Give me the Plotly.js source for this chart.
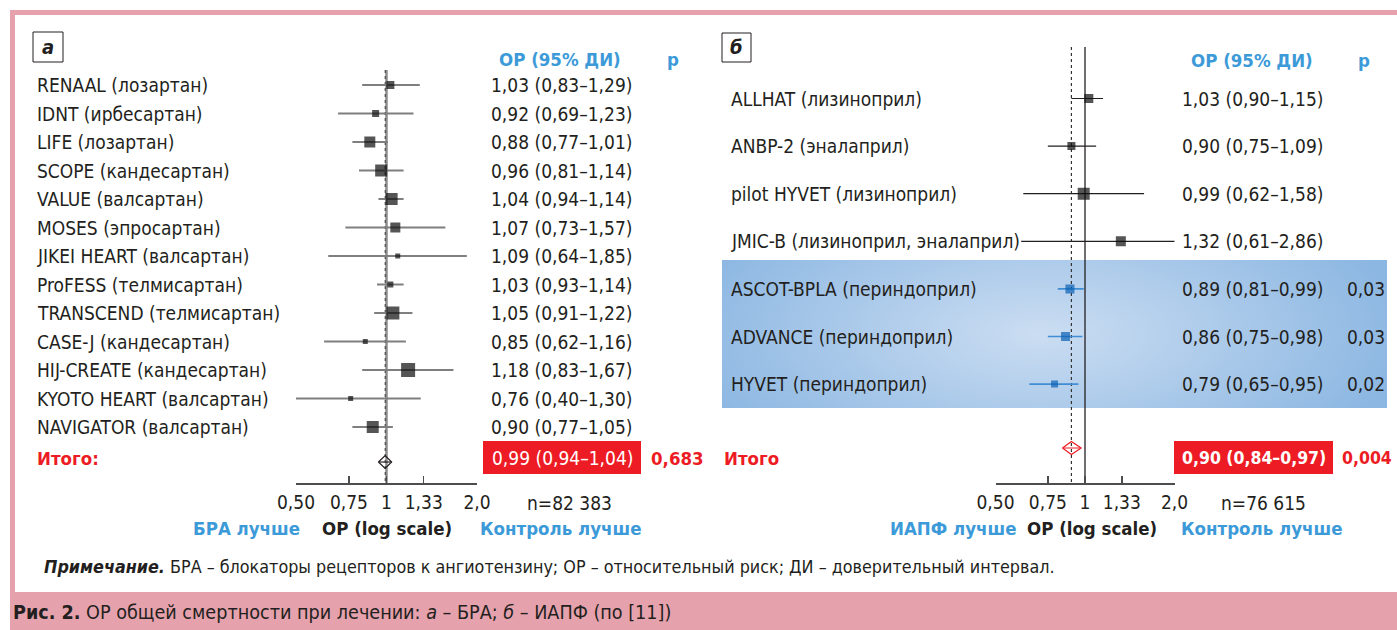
<!DOCTYPE html>
<html><head><meta charset="utf-8">
<script src="https://cdn.plot.ly/plotly-3.0.1.min.js"></script>
<style>html,body{margin:0;padding:0;background:#fff}#chart{width:1397px;height:630px}</style>
</head><body><div id="chart"></div>
<script>
// ---------- DATA ----------
// Panel а – БРА
const studiesA = ["RENAAL (лозартан)", "IDNT (ирбесартан)", "LIFE (лозартан)", "SCOPE (кандесартан)",
  "VALUE (валсартан)", "MOSES (эпросартан)", "JIKEI HEART (валсартан)", "ProFESS (телмисартан)",
  "TRANSCEND (телмисартан)", "CASE-J (кандесартан)", "HIJ-CREATE (кандесартан)",
  "KYOTO HEART (валсартан)", "NAVIGATOR (валсартан)"];
const orA = [1.03, 0.92, 0.88, 0.96, 1.04, 1.07, 1.09, 1.03, 1.05, 0.85, 1.18, 0.76, 0.90];
const loA = [0.83, 0.69, 0.77, 0.81, 0.94, 0.73, 0.64, 0.93, 0.91, 0.62, 0.83, 0.40, 0.77];
const hiA = [1.29, 1.23, 1.01, 1.14, 1.14, 1.57, 1.85, 1.14, 1.22, 1.16, 1.67, 1.30, 1.05];
const totalOrA = 0.99, totalLoA = 0.94, totalHiA = 1.04;
const totalPA = "0,683";
const nA = "n=82 383";

// Panel б – ИАПФ
const studiesB = ["ALLHAT (лизиноприл)", "ANBP-2 (эналаприл)", "pilot HYVET (лизиноприл)",
  "JMIC-B (лизиноприл, эналаприл)", "ASCOT-BPLA (периндоприл)", "ADVANCE (периндоприл)",
  "HYVET (периндоприл)"];
const orB = [1.03, 0.90, 0.99, 1.32, 0.89, 0.86, 0.79];
const loB = [0.90, 0.75, 0.62, 0.61, 0.81, 0.75, 0.65];
const hiB = [1.15, 1.09, 1.58, 2.86, 0.99, 0.98, 0.95];
const pB = ["", "", "", "", "0,03", "0,03", "0,02"];
const totalOrB = 0.90, totalLoB = 0.84, totalHiB = 0.97;
const totalPB = "0,004";
const nB = "n=76 615";

// Axis ticks
const tickVals = [0.5, 0.75, 1, 1.33, 2];
const tickText = ["0,50", "0,75", "1", "1,33", "2,0"];

// ---------- STYLE ----------
const boxSizeA = [8, 7, 11, 12, 12, 10, 5, 6, 13, 5, 14, 5, 12];
const boxSizeB = [9, 8, 12, 10, 9, 9, 7];

const W = 1397, H = 630;
const F = "'DejaVu Sans Condensed', 'DejaVu Sans', sans-serif";
const INK = '#231f20', BLUE = '#3d9ad8', RED = '#ed1c24', PINK = '#e6a2ac';
const FS = 19;
const px = v => v / W;
const py = v => 1 - v / H;

// row geometry (pixels)
const A_ROW0 = 85, A_STEP = 28.5, B_ROW0 = 98.5, B_STEP = 47.6, AX_Y = 483;
const yA = p => (p - A_ROW0) / A_STEP;
const yB = p => (p - B_ROW0) / B_STEP;

const fmt = v => v.toFixed(2).replace('.', ',');
const ciText = (o, l, h) => `${fmt(o)} (${fmt(l)}–${fmt(h)})`;

function segs(lo, hi, rows, filter) {
  const xs = [], ys = [];
  lo.forEach((l, i) => { if (filter(i)) { xs.push(l, hi[i], null); ys.push(rows[i], rows[i], null); } });
  return {x: xs, y: ys};
}
const rowsA = studiesA.map((_, i) => i);
const rowsB = studiesB.map((_, i) => i);
const isBlue = i => pB[i] !== "";

function diamond(o, l, h, yc, hh) {
  return {x: [l, o, h, o, l, null, l, h], y: [yc, yc - hh, yc, yc + hh, yc, null, yc, yc]};
}

const traces = [];
// ---- Panel A ----
traces.push({x: [1, 1], y: [yA(70), yA(AX_Y)], xaxis: 'x', yaxis: 'y', mode: 'lines',
  line: {color: '#8c8c8c', width: 2.5}, hoverinfo: 'skip'});
traces.push({x: [totalOrA, totalOrA], y: [yA(70), yA(AX_Y)], xaxis: 'x', yaxis: 'y', mode: 'lines',
  line: {color: '#333', width: 1, dash: '3px,3px'}, hoverinfo: 'skip'});
const sA = segs(loA, hiA, rowsA, () => true);
traces.push({x: sA.x, y: sA.y, xaxis: 'x', yaxis: 'y', mode: 'lines', connectgaps: false,
  line: {color: '#7f7f7f', width: 2}, hoverinfo: 'skip'});
traces.push({x: orA, y: rowsA, xaxis: 'x', yaxis: 'y', mode: 'markers',
  marker: {symbol: 'square', size: boxSizeA, color: '#0d0d0d', line: {width: 0}}, hoverinfo: 'skip'});
const dA = diamond(totalOrA, totalLoA, totalHiA, yA(462), 6.5 / A_STEP);
traces.push({x: dA.x, y: dA.y, xaxis: 'x', yaxis: 'y', mode: 'lines',
  line: {color: INK, width: 1.2}, hoverinfo: 'skip'});

// ---- Panel B ----
traces.push({x: [1, 1], y: [yB(47), yB(AX_Y)], xaxis: 'x2', yaxis: 'y2', mode: 'lines',
  line: {color: INK, width: 1.3}, hoverinfo: 'skip'});
traces.push({x: [totalOrB, totalOrB], y: [yB(47), yB(AX_Y)], xaxis: 'x2', yaxis: 'y2', mode: 'lines',
  line: {color: '#333', width: 1.2, dash: '3px,3px'}, hoverinfo: 'skip'});
const sB1 = segs(loB, hiB, rowsB, i => !isBlue(i));
traces.push({x: sB1.x, y: sB1.y, xaxis: 'x2', yaxis: 'y2', mode: 'lines',
  line: {color: INK, width: 1.2}, hoverinfo: 'skip'});
const sB2 = segs(loB, hiB, rowsB, isBlue);
traces.push({x: sB2.x, y: sB2.y, xaxis: 'x2', yaxis: 'y2', mode: 'lines',
  line: {color: '#3f8dd4', width: 1.6}, hoverinfo: 'skip'});
traces.push({x: orB, y: rowsB, xaxis: 'x2', yaxis: 'y2', mode: 'markers',
  marker: {symbol: 'square', size: boxSizeB, color: rowsB.map(i => isBlue(i) ? '#0a5fb4' : '#0d0d0d'), line: {width: 0}},
  hoverinfo: 'skip'});
const dB = diamond(totalOrB, totalLoB, totalHiB, yB(448), 6.5 / B_STEP);
traces.push({x: dB.x, y: dB.y, xaxis: 'x2', yaxis: 'y2', mode: 'lines',
  line: {color: RED, width: 1.2}, hoverinfo: 'skip'});

// ---------- ANNOTATIONS ----------
const ann = [];
const txt = (text, x, y, opts = {}) => Object.assign({text, x, y, xref: 'paper', yref: 'paper',
  showarrow: false, xanchor: 'left', yanchor: 'middle',
  font: {family: F, size: FS, color: INK}}, opts);

// Panel A
ann.push(txt('<b><i>а</i></b>', px(48), py(47), {xanchor: 'center', font: {family: F, size: 20, color: INK}}));
ann.push(txt('<b>ОР (95% ДИ)</b>', px(560), py(59), {xanchor: 'center', font: {family: F, size: 18.5, color: BLUE}}));
ann.push(txt('<b>р</b>', px(673), py(59), {xanchor: 'center', font: {family: F, size: 18.5, color: BLUE}}));
studiesA.forEach((s, i) => {
  ann.push(txt(s, px(35), i, {yref: 'y'}));
  ann.push(txt(ciText(orA[i], loA[i], hiA[i]), px(489), i, {yref: 'y'}));
});
ann.push(txt('<b>Итого:</b>', px(35), py(458), {font: {family: F, size: 18.5, color: RED}}));
ann.push(txt(ciText(totalOrA, totalLoA, totalHiA), px(562), py(458), {xanchor: 'center', font: {family: F, size: FS, color: '#fff'}}));
ann.push(txt('<b>' + totalPA + '</b>', px(649), py(458), {font: {family: F, size: 18.5, color: RED}}));
ann.push(txt(nA, px(569), py(503), {xanchor: 'center'}));
ann.push(txt('<b>БРА лучше</b>', px(302), py(528), {xanchor: 'right', font: {family: F, size: 18.5, color: BLUE}}));
ann.push(txt('<b>ОР (log scale)</b>', px(387), py(528), {xanchor: 'center', font: {family: F, size: 18.5, color: INK}}));
ann.push(txt('<b>Контроль лучше</b>', px(478), py(528), {font: {family: F, size: 18.5, color: BLUE}}));

// Panel B
ann.push(txt('<b><i>б</i></b>', px(736.5), py(47.5), {xanchor: 'center', font: {family: F, size: 20, color: INK}}));
ann.push(txt('<b>ОР (95% ДИ)</b>', px(1252), py(60), {xanchor: 'center', font: {family: F, size: 18.5, color: BLUE}}));
ann.push(txt('<b>р</b>', px(1364), py(60), {xanchor: 'center', font: {family: F, size: 18.5, color: BLUE}}));
studiesB.forEach((s, i) => {
  ann.push(txt(s, px(729), i, {yref: 'y2'}));
  ann.push(txt(ciText(orB[i], loB[i], hiB[i]), px(1180), i, {yref: 'y2'}));
  if (pB[i]) ann.push(txt(pB[i], px(1345), i, {yref: 'y2'}));
});
ann.push(txt('<b>Итого</b>', px(722), py(458), {font: {family: F, size: 18.5, color: RED}}));
ann.push(txt('<b>' + ciText(totalOrB, totalLoB, totalHiB) + '</b>', px(1253.5), py(458), {xanchor: 'center', font: {family: F, size: 17.5, color: '#fff'}}));
ann.push(txt('<b>' + totalPB + '</b>', px(1340), py(458), {font: {family: F, size: 17.5, color: RED}}));
ann.push(txt(nB, px(1263), py(503), {xanchor: 'center'}));
ann.push(txt('<b>ИАПФ лучше</b>', px(1018), py(528), {xanchor: 'right', font: {family: F, size: 18.5, color: BLUE}}));
ann.push(txt('<b>ОР (log scale)</b>', px(1092), py(528), {xanchor: 'center', font: {family: F, size: 18.5, color: INK}}));
ann.push(txt('<b>Контроль лучше</b>', px(1179), py(528), {font: {family: F, size: 18.5, color: BLUE}}));

// Note & caption
ann.push(txt('<b><i>Примечание.</i></b> БРА – блокаторы рецепторов к ангиотензину; ОР – относительный риск; ДИ – доверительный интервал.',
  px(42), py(566), {font: {family: F, size: 17.8, color: INK}}));
ann.push(txt('<b>Рис. 2.</b> ОР общей смертности при лечении: <i>а</i> – БРА; <i>б</i> – ИАПФ (по [11])',
  px(11), py(612), {font: {family: F, size: 19.6, color: INK}}));

// ---------- SHAPES ----------
const rect = (x0, y0, x1, y1, fill, line) => ({type: 'rect', xref: 'paper', yref: 'paper',
  x0: px(x0), x1: px(x1), y0: py(y1), y1: py(y0), fillcolor: fill || 'rgba(0,0,0,0)',
  line: line || {width: 0}, layer: 'below'});
const shapes = [
  rect(10, 10, W, 15, PINK),
  rect(10, 10, 15, 592, PINK),
  rect(10, 592, W, H, PINK),
  rect(33, 32, 63, 62, null, {color: INK, width: 1}),
  rect(722, 33, 751, 62, null, {color: INK, width: 1}),
  rect(483, 441, 641, 474, RED),
  rect(1174, 441, 1333, 474, RED)
];

// gradient panel (decoration)
const cv = document.createElement('canvas');
cv.width = 665; cv.height = 148;
const ctx = cv.getContext('2d');
ctx.fillStyle = '#8cb7e2'; ctx.fillRect(0, 0, 665, 148);
ctx.save();
ctx.translate(318, 74); ctx.scale(1, 0.42);
const g = ctx.createRadialGradient(0, 0, 0, 0, 0, 370);
g.addColorStop(0, '#cbddf2'); g.addColorStop(1, '#8cb7e2');
ctx.fillStyle = g; ctx.fillRect(-400, -400, 800, 800);
ctx.restore();

const axisCommon = {type: 'log', range: [Math.log10(0.5), Math.log10(2)], anchor: 'free',
  position: 1 - AX_Y / H, showline: true, linecolor: '#4d4d4d', linewidth: 1.5,
  ticks: 'inside', ticklen: 7, tickwidth: 1.5, tickcolor: '#4d4d4d', ticklabelstandoff: 2,
  tickvals: tickVals, ticktext: tickText, showgrid: false, zeroline: false, fixedrange: true,
  automargin: false, tickfont: {family: F, size: FS, color: INK}};

const layout = {
  width: W, height: H, margin: {l: 0, r: 0, t: 0, b: 0, pad: 0, autoexpand: false},
  paper_bgcolor: '#fff', plot_bgcolor: 'rgba(0,0,0,0)', showlegend: false, hovermode: false,
  xaxis: Object.assign({}, axisCommon, {domain: [px(296), px(477)]}),
  xaxis2: Object.assign({}, axisCommon, {domain: [px(995.5), px(1174.5)]}),
  yaxis: {domain: [0, 1], range: [yA(H), yA(0)], visible: false, fixedrange: true},
  yaxis2: {domain: [0, 1], range: [yB(H), yB(0)], visible: false, fixedrange: true},
  annotations: ann, shapes: shapes,
  images: [{source: cv.toDataURL('image/png'), xref: 'paper', yref: 'paper', x: px(722), y: py(260),
    sizex: 665 / W, sizey: 148 / H, sizing: 'stretch', xanchor: 'left', yanchor: 'top', layer: 'below'}]
};

Plotly.newPlot('chart', traces, layout, {displayModeBar: false, staticPlot: true});
</script></body></html>
